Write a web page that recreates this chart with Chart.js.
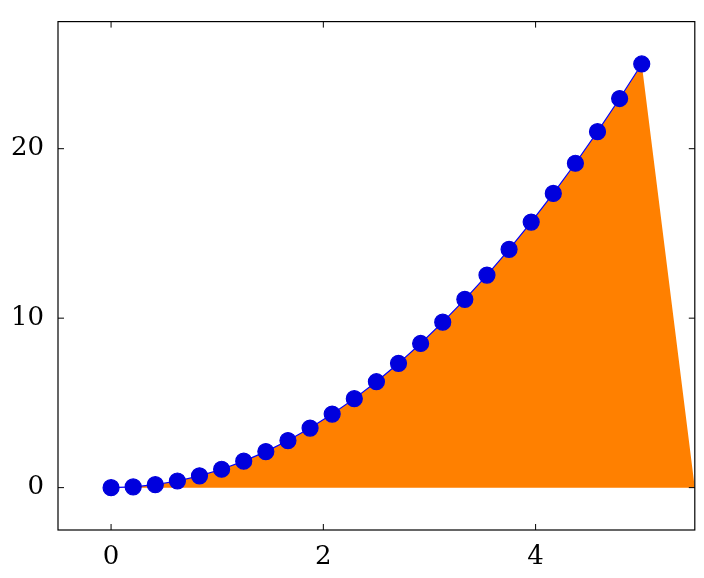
<!DOCTYPE html>
<html><head><meta charset="utf-8">
<script src="https://cdn.jsdelivr.net/npm/chart.js@4"></script>
<style>html,body{margin:0;padding:0;background:#fff}#w{width:704px;height:578px}</style>
</head><body><div id="w"><canvas id="c"></canvas></div>
<script>
const xs=[0,0.2083,0.4167,0.625,0.8333,1.0417,1.25,1.4583,1.6667,1.875,2.0833,2.2917,2.5,2.7083,2.9167,3.125,3.3333,3.5417,3.75,3.9583,4.1667,4.375,4.5833,4.7917,5];
const ys=[0,0.0434,0.1736,0.3906,0.6944,1.085,1.5625,2.1267,2.7778,3.5156,4.3403,5.2517,6.25,7.335,8.507,9.766,11.111,12.543,14.0625,15.668,17.361,19.141,21.007,22.960,25];
const fillEnd={x:5.5,y:0};
const xTicks=[0,2,4], yTicks=[0,10,20];
const pts=xs.map((x,i)=>({x,y:ys[i]}));
const tickPlugin={id:'t',afterDraw(ch){const c=ch.ctx,a=ch.chartArea,X=ch.scales.x,Y=ch.scales.y;c.save();c.strokeStyle='#000';c.lineWidth=1;c.beginPath();
xTicks.forEach(v=>{const p=X.getPixelForValue(v);c.moveTo(p,a.bottom);c.lineTo(p,a.bottom-6);c.moveTo(p,a.top);c.lineTo(p,a.top+6);});
yTicks.forEach(v=>{const p=Y.getPixelForValue(v);c.moveTo(a.left,p);c.lineTo(a.left+6,p);c.moveTo(a.right,p);c.lineTo(a.right-6,p);});
c.stroke();c.lineWidth=1.2;c.strokeRect(a.left,a.top,a.right-a.left,a.bottom-a.top);c.restore();}};
new Chart(document.getElementById('c'),{type:'scatter',data:{datasets:[
{data:pts,showLine:true,borderColor:'#0000ff',borderWidth:1.2,backgroundColor:'#0000dd',pointBackgroundColor:'#0000dd',pointBorderColor:'#0000dd',pointRadius:8,pointHoverRadius:8,order:0},
{data:pts.concat([fillEnd]),showLine:true,borderWidth:0,borderColor:'rgba(0,0,0,0)',pointRadius:0,fill:'origin',backgroundColor:'#ff8000',order:1}
]},options:{responsive:true,maintainAspectRatio:false,animation:false,events:[],
layout:{padding:{top:5,right:7,left:0,bottom:0}},
plugins:{legend:{display:false},tooltip:{enabled:false}},
scales:{x:{type:'linear',min:-0.5,max:5.5,grid:{display:false},border:{display:false},afterFit(s){s.height=48;},
afterBuildTicks(s){s.ticks=xTicks.map(v=>({value:v}));},ticks:{color:'#000',font:{family:'DejaVu Serif',size:26},maxRotation:0,padding:4}},
y:{min:-2.5,max:27.5,grid:{display:false},border:{display:false},afterFit(s){s.width=58;},
afterBuildTicks(s){s.ticks=yTicks.map(v=>({value:v}));},ticks:{color:'#000',font:{family:'DejaVu Serif',size:26},padding:6}}}},
plugins:[tickPlugin]});
</script></body></html>
